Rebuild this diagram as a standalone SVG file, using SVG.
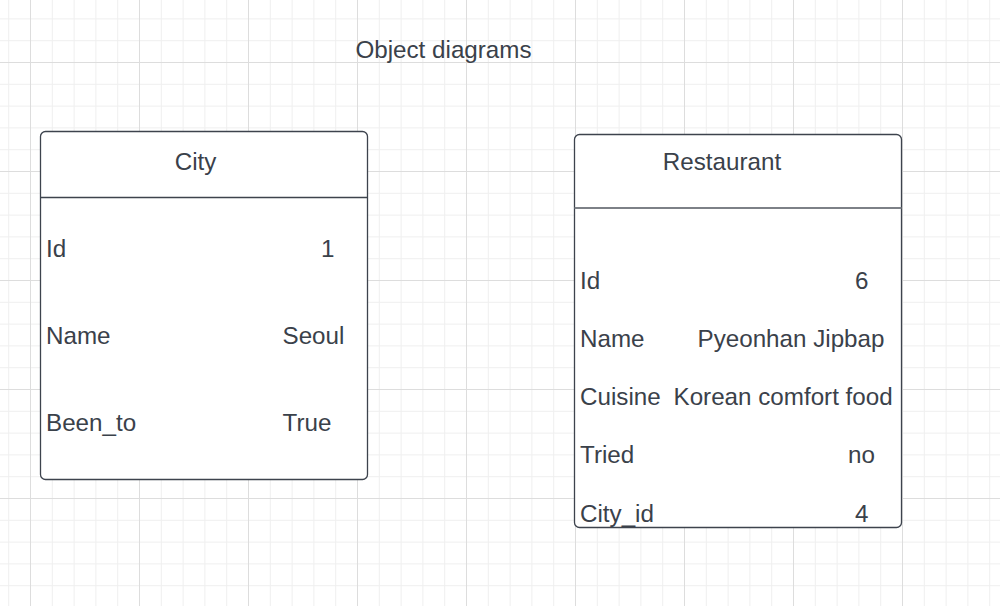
<svg xmlns="http://www.w3.org/2000/svg" width="1000" height="606" viewBox="0 0 1000 606">
  <defs>
    <pattern id="grid" patternUnits="userSpaceOnUse" x="30" y="62" width="109" height="109">
      <path d="M22.3 0V109M44.1 0V109M65.9 0V109M87.7 0V109M0 22.3H109M0 44.1H109M0 65.9H109M0 87.7H109" stroke="#efefef" stroke-width="1" fill="none"/>
      <path d="M0.5 0V109M0 0.5H109" stroke="#dddddd" stroke-width="1" fill="none"/>
    </pattern>
    <style>
      .box { fill: #ffffff; stroke: #3d434d; stroke-width: 1.3; }
      .div { stroke: #3d434d; stroke-width: 1.3; }
      .t { font-family: "Liberation Sans", Arial, sans-serif; font-size: 24.2px; fill: #3a414a; }
      .c { text-anchor: middle; }
    </style>
  </defs>
  <rect width="1000" height="606" fill="#ffffff"/>
  <rect width="1000" height="606" fill="url(#grid)"/>

  <g id="title">
    <text class="t c" x="443.5" y="58">Object diagrams</text>
  </g>

  <g id="city">
    <rect class="box" x="40.5" y="131.5" width="327" height="348" rx="5"/>
    <line class="div" x1="40.5" y1="197.5" x2="367.5" y2="197.5"/>
    <text class="t c" x="195.5" y="170">City</text>
    <text class="t" x="46" y="257">Id</text>
    <text class="t" x="321" y="257">1</text>
    <text class="t" x="46" y="344">Name</text>
    <text class="t" x="282.5" y="344">Seoul</text>
    <text class="t" x="46" y="431">Been_to</text>
    <text class="t" x="282.5" y="431">True</text>
  </g>

  <g id="restaurant">
    <rect class="box" x="574.5" y="134.5" width="327" height="393" rx="5"/>
    <line x1="574.5" y1="208" x2="901.5" y2="208" stroke="#7d8187" stroke-width="1.8"/>
    <text class="t c" x="722" y="170">Restaurant</text>
    <text class="t" x="580" y="288.5">Id</text>
    <text class="t" x="855" y="288.5">6</text>
    <text class="t" x="580" y="347">Name</text>
    <text class="t" x="697.5" y="347">Pyeonhan Jipbap</text>
    <text class="t" x="580" y="405">Cuisine</text>
    <text class="t" x="673.5" y="405">Korean comfort food</text>
    <text class="t" x="580" y="463">Tried</text>
    <text class="t" x="848" y="463">no</text>
    <text class="t" x="580" y="521.5">City_id</text>
    <text class="t" x="855" y="521.5">4</text>
  </g>

  <g id="connectors"></g>
</svg>
